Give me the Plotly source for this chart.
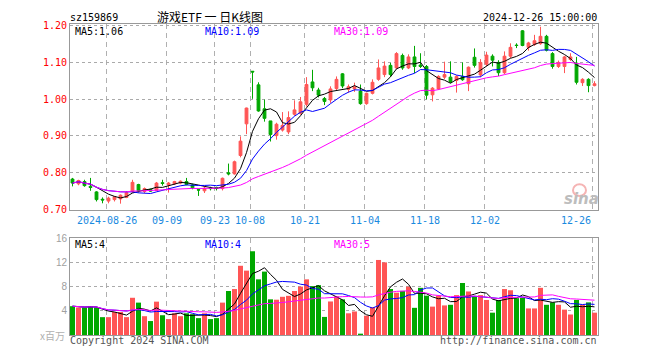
import plotly.graph_objects as go
import pandas as pd

# ---------------- data ----------------
dates = [
    "2024-08-16", "2024-08-19", "2024-08-20", "2024-08-21", "2024-08-22", "2024-08-23",
    "2024-08-26", "2024-08-27", "2024-08-28", "2024-08-29", "2024-08-30",
    "2024-09-02", "2024-09-03", "2024-09-04", "2024-09-05", "2024-09-06",
    "2024-09-09", "2024-09-10", "2024-09-11", "2024-09-12", "2024-09-13",
    "2024-09-18", "2024-09-19", "2024-09-20", "2024-09-23", "2024-09-24",
    "2024-09-25", "2024-09-26", "2024-09-27", "2024-09-30",
    "2024-10-08", "2024-10-09", "2024-10-10", "2024-10-11", "2024-10-14",
    "2024-10-15", "2024-10-16", "2024-10-17", "2024-10-18", "2024-10-21",
    "2024-10-22", "2024-10-23", "2024-10-24", "2024-10-25", "2024-10-28",
    "2024-10-29", "2024-10-30", "2024-10-31", "2024-11-01", "2024-11-04",
    "2024-11-05", "2024-11-06", "2024-11-07", "2024-11-08", "2024-11-11",
    "2024-11-12", "2024-11-13", "2024-11-14", "2024-11-15", "2024-11-18",
    "2024-11-19", "2024-11-20", "2024-11-21", "2024-11-22", "2024-11-25",
    "2024-11-26", "2024-11-27", "2024-11-28", "2024-11-29", "2024-12-02",
    "2024-12-03", "2024-12-04", "2024-12-05", "2024-12-06", "2024-12-09",
    "2024-12-10", "2024-12-11", "2024-12-12", "2024-12-13", "2024-12-16",
    "2024-12-17", "2024-12-18", "2024-12-19", "2024-12-20", "2024-12-23",
    "2024-12-24", "2024-12-25", "2024-12-26",
]

opens = [
    0.783, 0.770, 0.776, 0.763, 0.748, 0.728, 0.723, 0.727, 0.729, 0.733,
    0.748, 0.768, 0.749, 0.755, 0.752, 0.773, 0.767, 0.770, 0.772, 0.776,
    0.767, 0.754, 0.751, 0.759, 0.760, 0.757, 0.800, 0.797, 0.847, 0.933,
    1.076, 1.039, 0.974, 0.941, 0.901, 0.916, 0.911, 0.959, 0.962, 0.986,
    1.047, 1.025, 1.002, 0.998, 1.029, 1.069, 1.027, 1.028, 1.022, 0.988,
    1.016, 1.054, 1.067, 1.092, 1.085, 1.119, 1.085, 1.115, 1.093, 1.089,
    1.012, 1.028, 1.060, 1.060, 1.051, 1.062, 1.042, 1.114, 1.066, 1.095,
    1.117, 1.100, 1.072, 1.117, 1.147, 1.186, 1.141, 1.149, 1.151, 1.171,
    1.124, 1.089, 1.089, 1.108, 1.098, 1.045, 1.054, 1.037,
]
highs = [
    0.786, 0.781, 0.781, 0.786, 0.750, 0.733, 0.735, 0.737, 0.741, 0.750,
    0.781, 0.770, 0.760, 0.757, 0.775, 0.781, 0.775, 0.778, 0.779, 0.786,
    0.770, 0.757, 0.764, 0.762, 0.762, 0.787, 0.825, 0.833, 0.899, 0.977,
    1.076, 1.046, 0.999, 0.941, 0.936, 0.965, 0.967, 0.997, 1.006, 1.060,
    1.080, 1.031, 1.006, 1.035, 1.062, 1.071, 1.040, 1.045, 1.040, 1.018,
    1.054, 1.108, 1.103, 1.099, 1.128, 1.124, 1.122, 1.145, 1.125, 1.093,
    1.033, 1.065, 1.102, 1.103, 1.065, 1.100, 1.089, 1.138, 1.109, 1.129,
    1.122, 1.106, 1.130, 1.152, 1.152, 1.188, 1.156, 1.175, 1.197, 1.175,
    1.128, 1.105, 1.118, 1.125, 1.115, 1.057, 1.057, 1.049,
]
lows = [
    0.763, 0.766, 0.762, 0.751, 0.722, 0.717, 0.717, 0.722, 0.716, 0.731,
    0.746, 0.746, 0.745, 0.748, 0.750, 0.765, 0.746, 0.767, 0.769, 0.766,
    0.755, 0.737, 0.745, 0.752, 0.752, 0.752, 0.793, 0.795, 0.842, 0.905,
    1.001, 0.966, 0.939, 0.885, 0.890, 0.912, 0.905, 0.955, 0.958, 0.980,
    1.022, 1.005, 0.984, 0.990, 1.025, 1.030, 1.018, 1.020, 0.985, 0.985,
    1.013, 1.050, 1.060, 1.061, 1.082, 1.080, 1.082, 1.071, 1.085, 1.000,
    0.994, 1.025, 1.055, 1.044, 1.018, 1.050, 1.022, 1.086, 1.060, 1.090,
    1.089, 1.063, 1.068, 1.112, 1.139, 1.144, 1.132, 1.145, 1.148, 1.130,
    1.083, 1.085, 1.071, 1.104, 1.040, 1.036, 1.019, 1.035,
]
closes = [
    0.772, 0.779, 0.765, 0.760, 0.727, 0.726, 0.731, 0.735, 0.739, 0.746,
    0.774, 0.751, 0.757, 0.750, 0.772, 0.771, 0.772, 0.776, 0.777, 0.768,
    0.759, 0.753, 0.758, 0.757, 0.758, 0.785, 0.797, 0.830, 0.886, 0.976,
    1.074, 0.968, 0.948, 0.904, 0.932, 0.929, 0.950, 0.971, 0.993, 1.040,
    1.031, 1.011, 0.994, 1.028, 1.054, 1.036, 1.034, 1.034, 0.988, 1.016,
    1.046, 1.085, 1.090, 1.067, 1.124, 1.085, 1.115, 1.089, 1.089, 1.011,
    1.030, 1.062, 1.067, 1.047, 1.062, 1.053, 1.087, 1.092, 1.100, 1.120,
    1.106, 1.072, 1.117, 1.141, 1.146, 1.146, 1.153, 1.159, 1.171, 1.133,
    1.089, 1.100, 1.115, 1.115, 1.046, 1.054, 1.037, 1.042,
]
# volume in millions (x百万)
volumes = [
    4.77, 4.56, 4.56, 4.77, 4.56, 2.96, 2.96, 3.81, 3.81, 2.96,
    6.16, 5.36, 3.12, 2.32, 5.52, 3.28, 2.64, 3.60, 3.12, 3.60,
    3.44, 2.80, 3.60, 2.64, 2.80, 5.36, 7.28, 7.60, 11.44, 10.64,
    13.84, 9.20, 10.48, 5.90, 5.84, 6.32, 6.48, 7.28, 8.00, 9.20,
    8.08, 8.24, 3.00, 5.55, 6.40, 5.90, 3.60, 3.90, 0.20, 3.20,
    4.60, 12.40, 12.00, 7.60, 7.00, 7.30, 8.00, 4.50, 7.80, 6.50,
    4.70, 6.50, 4.90, 5.00, 6.60, 8.60, 7.20, 6.40, 6.60, 5.80,
    3.70, 5.80, 7.60, 7.40, 6.10, 6.20, 4.40, 4.40, 7.80, 5.00,
    5.40, 5.00, 4.20, 3.40, 5.80, 5.00, 5.40, 3.70,
]

tick_dates = ["2024-08-26", "2024-09-09", "2024-09-23", "2024-10-08", "2024-10-21",
              "2024-11-04", "2024-11-18", "2024-12-02", "2024-12-26"]
tick_labels = ["2024-08-26", "09-09", "09-23", "10-08", "10-21",
               "11-04", "11-18", "12-02", "12-26"]
price_ticks = [0.70, 0.80, 0.90, 1.00, 1.10, 1.20]
price_tick_text = ["0.70", "0.80", "0.90", "1.00", "1.10", "1.20"]
vol_ticks = [4, 8, 12, 16]
vol_tick_text = ["4", "8", "12", "16"]

price_ma_labels = ["MA5:1.06", "MA10:1.09", "MA30:1.09"]
vol_ma_labels = ["MA5:4", "MA10:4", "MA30:5"]

# ---------------- helpers ----------------
W, H = 660, 360
def xp(px):
    return px / W
def yp(py):
    return 1 - py / H

RED = "#ff5555"
GREEN = "#00a800"
MONO = "DejaVu Sans Mono"

n = len(dates)
x = list(range(n))
slot = (598 - 70) / n            # 6 px per day
xr = [-(2.5 / slot), n - 2.5 / slot]

close_s = pd.Series(closes)
vol_s = pd.Series(volumes)
ma_periods = [5, 10, 30]
ma_colors = ["#000000", "#0000ff", "#ff00ff"]

grid_x = [dates.index(d) - 2.0 / slot for d in tick_dates]

fig = go.Figure()

fig.add_trace(go.Candlestick(
    x=x, open=opens, high=highs, low=lows, close=closes,
    xaxis="x", yaxis="y", whiskerwidth=0,
    increasing=dict(line=dict(color=RED, width=1), fillcolor=RED),
    decreasing=dict(line=dict(color=GREEN, width=1), fillcolor=GREEN),
    hoverinfo="skip",
))
for p, c in zip(ma_periods, ma_colors):
    fig.add_trace(go.Scatter(x=x, y=close_s.rolling(p, min_periods=1).mean(),
                             mode="lines", line=dict(color=c, width=1),
                             xaxis="x", yaxis="y", hoverinfo="skip"))

bar_colors = [RED if c >= o else GREEN for o, c in zip(opens, closes)]
fig.add_trace(go.Bar(x=x, y=volumes, marker=dict(color=bar_colors, line=dict(width=0)),
                     width=5.0 / slot, xaxis="x2", yaxis="y2", hoverinfo="skip"))
for p, c in zip(ma_periods, ma_colors):
    fig.add_trace(go.Scatter(x=x, y=vol_s.rolling(p, min_periods=1).mean(),
                             mode="lines", line=dict(color=c, width=1),
                             xaxis="x2", yaxis="y2", hoverinfo="skip"))

xcommon = dict(
    range=xr, tickvals=grid_x, showticklabels=False, ticks="",
    showgrid=True, gridcolor="#b0b0b0", griddash="5px,4px", gridwidth=1,
    showline=True, linecolor="#999999", linewidth=1, mirror=True,
    zeroline=False, fixedrange=True,
)
fig.update_layout(
    width=W, height=H, margin=dict(l=0, r=0, t=0, b=0),
    paper_bgcolor="white", plot_bgcolor="white", showlegend=False,
    boxgap=1 - 4.0 / slot, hovermode=False,
    xaxis=dict(domain=[xp(70), xp(598)], anchor="y", rangeslider=dict(visible=False), **xcommon),
    xaxis2=dict(domain=[xp(70), xp(598)], anchor="y2", **xcommon),
    yaxis=dict(
        domain=[yp(211), yp(20)], range=[0.70, 0.70 + (211 - 20) / 379.4],
        tickvals=price_ticks, ticktext=price_tick_text,
        tickfont=dict(family=MONO, size=10, color="#ff0000"), ticks="",
        showgrid=True, gridcolor="#aaaaaa", griddash="dot", gridwidth=1,
        showline=True, linecolor="#999999", linewidth=1, mirror=True,
        zeroline=False, anchor="x", fixedrange=True,
    ),
    yaxis2=dict(
        domain=[yp(340.5), yp(240)], range=[0, (340.5 - 240) * 0.16],
        tickvals=vol_ticks, ticktext=vol_tick_text,
        tickfont=dict(family="Liberation Sans", size=10, color="#a0a0a0"), ticks="",
        showgrid=True, gridcolor="#aaaaaa", griddash="dot", gridwidth=1,
        showline=True, linecolor="#999999", linewidth=1, mirror=True,
        zeroline=False, anchor="x2", fixedrange=True,
    ),
)

ann = []
def text(px, py, s, color="#000000", size=10, family=MONO, xanchor="left", yanchor="middle"):
    ann.append(dict(x=xp(px), y=yp(py), xref="paper", yref="paper", text=s, showarrow=False,
                    xanchor=xanchor, yanchor=yanchor, font=dict(family=family, size=size, color=color),
                    borderpad=0))

# header
text(69, 12.5, "sz159869")
text(210, 12, "游戏ETF 一 日K线图", size=12, family="Noto Sans CJK SC", xanchor="center")
text(598, 12.5, "2024-12-26 15:00:00", xanchor="right")
# MA labels
for lbl, c, px in zip(price_ma_labels, ma_colors, [74, 203.5, 333.5]):
    text(px, 27, lbl, color=c)
for lbl, c, px in zip(vol_ma_labels, ma_colors, [74, 203.5, 333.5]):
    text(px, 247, lbl, color=c)
# date labels under price panel
for d, lbl in zip(tick_dates, tick_labels):
    gx = 72.5 + slot * (dates.index(d) - 2.0 / slot)
    if d == tick_dates[-1]:
        text(592, 222, lbl, color="#1a8ae0", xanchor="right")
    else:
        text(gx, 222, lbl, color="#1a8ae0", xanchor="center")
# footer
text(66, 341, "x百万", color="#b0b0b0", size=10, family="Noto Sans CJK SC", xanchor="right")
text(69, 346, "Copyright 2024 SINA.COM", color="#555555")
text(598, 346, "http://finance.sina.com.cn", color="#555555", xanchor="right")
# watermark
fig.add_shape(type="circle", xref="paper", yref="paper",
              x0=xp(573), x1=xp(586), y0=yp(197), y1=yp(185),
              line=dict(color="#f5b4b4", width=2), fillcolor="rgba(0,0,0,0)")
text(581, 200, "<b><i>sina</i></b>", color="#bdbdbd", size=15, family="DejaVu Sans", xanchor="center")

fig.update_layout(annotations=ann)
fig.write_html("out.html")
